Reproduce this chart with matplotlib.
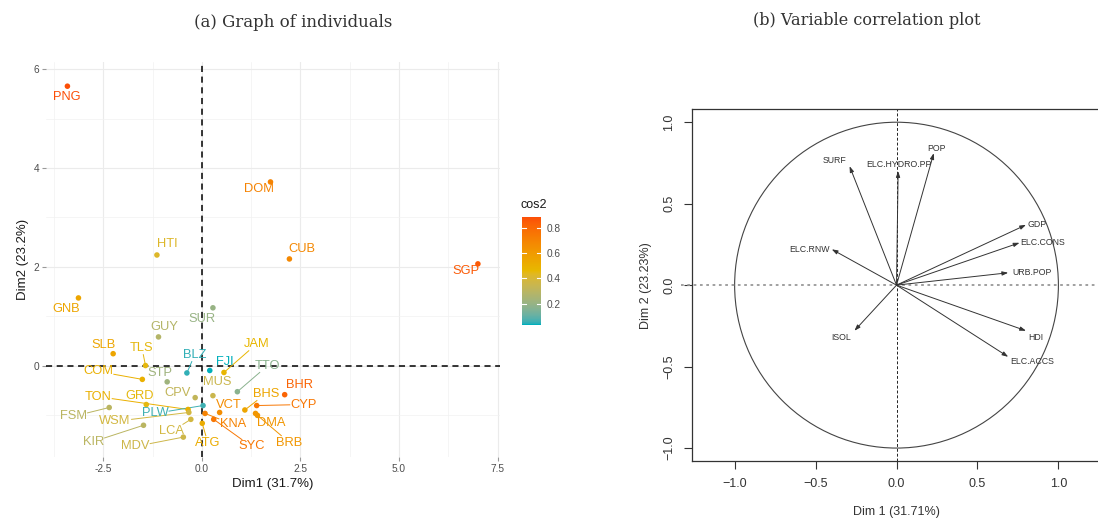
import numpy as np
import matplotlib
matplotlib.use("Agg")
import matplotlib.pyplot as plt
from matplotlib.colors import ListedColormap, Normalize, to_rgb
from matplotlib.patches import Circle

plt.rcParams["font.family"] = ["Liberation Sans", "DejaVu Sans"]

# ---------------------------------------------------------------
# (a) individuals: country codes, PCA coordinates and cos2
# ---------------------------------------------------------------
countries = ["PNG", "DOM", "HTI", "CUB", "SGP", "GNB", "SUR", "GUY", "SLB", "TLS",
             "COM", "STP", "BLZ", "FJI", "JAM", "TTO", "MUS", "CPV", "BHR", "BHS",
             "CYP", "VCT", "TON", "GRD", "PLW", "FSM", "WSM", "KIR", "LCA", "MDV",
             "ATG", "KNA", "SYC", "DMA", "BRB"]
dim1 = [-3.41, 1.74, -1.14, 2.22, 7.00, -3.13, 0.28, -1.10, -2.25, -1.43,
        -1.51, -0.88, -0.38, 0.20, 0.56, 0.90, 0.28, -0.17, 2.10, 1.09,
        1.39, 0.45, -0.35, -1.41, 0.03, -2.35, -0.33, -1.48, -0.28, -0.47,
        0.01, 0.08, 0.30, 1.36, 1.41]
dim2 = [5.66, 3.72, 2.24, 2.16, 2.06, 1.37, 1.17, 0.58, 0.24, 0.00,
        -0.28, -0.33, -0.15, -0.10, -0.14, -0.53, -0.61, -0.65, -0.59, -0.90,
        -0.81, -0.95, -0.89, -0.79, -0.81, -0.85, -0.95, -1.21, -1.09, -1.45,
        -1.17, -0.97, -1.09, -0.97, -1.01]
cos2 = [0.89, 0.70, 0.42, 0.68, 0.85, 0.55, 0.20, 0.28, 0.55, 0.45,
        0.50, 0.22, 0.05, 0.03, 0.47, 0.17, 0.35, 0.32, 0.82, 0.55,
        0.75, 0.66, 0.50, 0.45, 0.06, 0.30, 0.38, 0.30, 0.38, 0.36,
        0.52, 0.70, 0.75, 0.62, 0.62]
# where the repelled labels ended up (data units)
label_x = [-3.43, 1.44, -0.88, 2.53, 6.69, -3.43, 0.00, -0.96, -2.50, -1.52,
           -2.63, -1.06, -0.18, 0.58, 1.39, 1.67, 0.40, -0.61, 2.47, 1.62,
           2.58, 0.68, -2.63, -1.57, -1.19, -3.26, -2.20, -2.75, -0.76, -1.69,
           0.15, 0.78, 1.26, 1.77, 2.22]
label_y = [5.45, 3.58, 2.46, 2.36, 1.92, 1.15, 0.95, 0.79, 0.42, 0.36,
           -0.12, -0.16, 0.22, 0.08, 0.44, 0.00, -0.34, -0.55, -0.40, -0.57,
           -0.79, -0.79, -0.63, -0.61, -0.97, -1.03, -1.13, -1.54, -1.33, -1.64,
           -1.56, -1.19, -1.64, -1.17, -1.56]

# ---------------------------------------------------------------
# (b) variables: correlation with Dim 1 / Dim 2
# ---------------------------------------------------------------
variables = ["POP", "ELC.HYDRO.PP", "SURF", "GDP", "ELC.CONS", "URB.POP",
             "ELC.RNW", "ISOL", "HDI", "ELC.ACCS"]
var_d1 = [0.23, 0.01, -0.29, 0.80, 0.76, 0.69, -0.40, -0.26, 0.80, 0.69]
var_d2 = [0.81, 0.70, 0.73, 0.37, 0.26, 0.076, 0.22, -0.28, -0.28, -0.44]
var_lab_x = [0.25, 0.016, -0.38, 0.87, 0.90, 0.84, -0.54, -0.34, 0.86, 0.84]
var_lab_y = [0.84, 0.74, 0.765, 0.37, 0.26, 0.076, 0.22, -0.32, -0.32, -0.47]

gradient_cols = ["#00AFBB", "#E7B800", "#FC4E07"]


# ggplot interpolates gradients in CIELAB, so do the same here
def srgb_to_lab(rgb):
    rgb = np.asarray(rgb, float)
    lin = np.where(rgb <= 0.04045, rgb / 12.92, ((rgb + 0.055) / 1.055) ** 2.4)
    m = np.array([[0.4124, 0.3576, 0.1805],
                  [0.2126, 0.7152, 0.0722],
                  [0.0193, 0.1192, 0.9505]])
    xyz = lin @ m.T / np.array([0.95047, 1.0, 1.08883])
    f = np.where(xyz > 0.008856, np.cbrt(xyz), 7.787 * xyz + 16 / 116)
    return np.stack([116 * f[..., 1] - 16, 500 * (f[..., 0] - f[..., 1]),
                     200 * (f[..., 1] - f[..., 2])], -1)


def lab_to_srgb(lab):
    lab = np.asarray(lab, float)
    fy = (lab[..., 0] + 16) / 116
    fx = fy + lab[..., 1] / 500
    fz = fy - lab[..., 2] / 200
    f = np.stack([fx, fy, fz], -1)
    xyz = np.where(f > 0.2069, f ** 3, (f - 16 / 116) / 7.787)
    xyz = xyz * np.array([0.95047, 1.0, 1.08883])
    minv = np.array([[3.2406, -1.5372, -0.4986],
                     [-0.9689, 1.8758, 0.0415],
                     [0.0557, -0.2040, 1.0570]])
    lin = xyz @ minv.T
    rgb = np.where(lin <= 0.0031308, 12.92 * lin, 1.055 * np.clip(lin, 0, None) ** (1 / 2.4) - 0.055)
    return np.clip(rgb, 0, 1)


labs = srgb_to_lab([to_rgb(c) for c in gradient_cols])
tt = np.linspace(0, 1, 256)
stops = np.linspace(0, 1, len(gradient_cols))
ramp = np.stack([np.interp(tt, stops, labs[:, k]) for k in range(3)], -1)
cmap = ListedColormap(lab_to_srgb(ramp))
norm = Normalize(vmin=min(cos2), vmax=max(cos2))

fig = plt.figure(figsize=(10.98, 5.30), dpi=100)

fig.text(0.267, 0.958, "(a) Graph of individuals", family="DejaVu Serif",
         fontsize=12, color="#333333", ha="center", va="center")
fig.text(0.789, 0.962, "(b) Variable correlation plot", family="DejaVu Serif",
         fontsize=11.6, color="#333333", ha="center", va="center")

# ---------------------------- panel (a) -------------------------
ax = fig.add_axes([0.042, 0.138, 0.413, 0.745])
ax.set_xlim(-3.95, 7.55)
ax.set_ylim(-1.85, 6.15)
for s in ax.spines.values():
    s.set_visible(False)
ax.set_xticks([-2.5, 0, 2.5, 5, 7.5])
ax.set_xticklabels(["-2.5", "0.0", "2.5", "5.0", "7.5"])
ax.set_yticks([0, 2, 4, 6])
ax.set_xticks([-3.75, -1.25, 1.25, 3.75, 6.25], minor=True)
ax.set_yticks([-1, 1, 3, 5], minor=True)
ax.grid(which="major", color="#EBEBEB", lw=0.8)
ax.grid(which="minor", color="#F2F2F2", lw=0.5)
ax.set_axisbelow(True)
ax.tick_params(which="major", length=3, color="#999999", labelsize=7.3,
               labelcolor="#4D4D4D", pad=2)
ax.tick_params(which="minor", length=0)
ax.axvline(0, color="black", lw=1.1, ls=(0, (4, 3)), zorder=1)
ax.axhline(0, color="black", lw=1.1, ls=(0, (4, 3)), zorder=1)
ax.set_xlabel("Dim1 (31.7%)", fontsize=9.5, color="#1A1A1A", labelpad=3)
ax.set_ylabel("Dim2 (23.2%)", fontsize=9.5, color="#1A1A1A", labelpad=3)

colors = cmap(norm(np.array(cos2)))
sc = ax.scatter(dim1, dim2, c=cos2, cmap=cmap, norm=norm, s=16, zorder=3,
                linewidths=0)
texts = []
for name, lx, ly, col in zip(countries, label_x, label_y, colors):
    texts.append(ax.text(lx, ly, name, color=col, fontsize=9.3,
                         ha="center", va="center", zorder=4))

# ggrepel-like segments from label box edge to the point
fig.canvas.draw()
rend = fig.canvas.get_renderer()
inv = ax.transData.inverted()
for t, px, py, col in zip(texts, dim1, dim2, colors):
    bb = t.get_window_extent(rend).expanded(1.05, 1.15)
    cx, cy = (bb.x0 + bb.x1) / 2, (bb.y0 + bb.y1) / 2
    tx, ty = ax.transData.transform((px, py))
    dx, dy = tx - cx, ty - cy
    if bb.contains(tx, ty):
        continue
    f = min(bb.width / 2 / abs(dx) if dx else np.inf,
            bb.height / 2 / abs(dy) if dy else np.inf)
    ex, ey = cx + dx * f, cy + dy * f
    if np.hypot(tx - ex, ty - ey) < 7:
        continue
    (x0, y0), (x1, y1) = inv.transform([(ex, ey), (tx, ty)])
    ax.plot([x0, x1], [y0, y1], color=col, lw=0.7, zorder=2)

# colour bar
cax = fig.add_axes([0.475, 0.387, 0.018, 0.204])
cb = fig.colorbar(sc, cax=cax, ticks=[0.2, 0.4, 0.6, 0.8])
cb.outline.set_visible(False)
cb.ax.tick_params(length=0, labelsize=7.3, labelcolor="#4D4D4D", pad=4)
cb.ax.set_yticklabels(["0.2", "0.4", "0.6", "0.8"])
for v in [0.2, 0.4, 0.6, 0.8]:
    cb.ax.plot([0, 0.2], [v, v], color="white", lw=0.8, transform=cb.ax.get_yaxis_transform())
    cb.ax.plot([0.8, 1], [v, v], color="white", lw=0.8, transform=cb.ax.get_yaxis_transform())
fig.text(0.474, 0.613, "cos2", fontsize=9, color="#1A1A1A", ha="left", va="center")

# ---------------------------- panel (b) -------------------------
bx = fig.add_axes([0.630, 0.130, 0.373, 0.664])
bx.set_xlim(-1.265, 1.265)
bx.set_ylim(-1.08, 1.08)
for s in bx.spines.values():
    s.set_color("#333333")
    s.set_linewidth(0.9)
bx.set_xticks([-1.0, -0.5, 0.0, 0.5, 1.0])
bx.set_xticklabels(["\u22121.0", "\u22120.5", "0.0", "0.5", "1.0"])
bx.set_yticks([-1.0, -0.5, 0.0, 0.5, 1.0])
bx.set_yticklabels(["\u22121.0", "\u22120.5", "0.0", "0.5", "1.0"],
                   rotation=90, va="center")
bx.tick_params(length=6, width=0.8, color="#333333", labelsize=9,
               labelcolor="#333333", pad=6)
bx.set_xlabel("Dim 1 (31.71%)", fontsize=9, color="#333333", labelpad=12)
bx.set_ylabel("Dim 2 (23.23%)", fontsize=9, color="#333333", labelpad=8)

bx.add_patch(Circle((0, 0), 1.0, fill=False, ec="#444444", lw=0.8))
bx.plot([-1.33, 1.3], [0, 0], color="#999999", lw=1.3, ls=(0, (1.5, 2)),
        clip_on=False)
bx.axvline(0, color="#222222", lw=0.7, ls=(0, (3, 2)))

for x, y in zip(var_d1, var_d2):
    bx.annotate("", xy=(x, y), xytext=(0, 0),
                arrowprops=dict(arrowstyle="-|>,head_length=0.35,head_width=0.12",
                                color="#333333", lw=0.7, shrinkA=0, shrinkB=0))
for name, lx, ly in zip(variables, var_lab_x, var_lab_y):
    bx.text(lx, ly, name, fontsize=6.3, color="#333333", ha="center", va="center")

fig.savefig("out.png", dpi=100)
